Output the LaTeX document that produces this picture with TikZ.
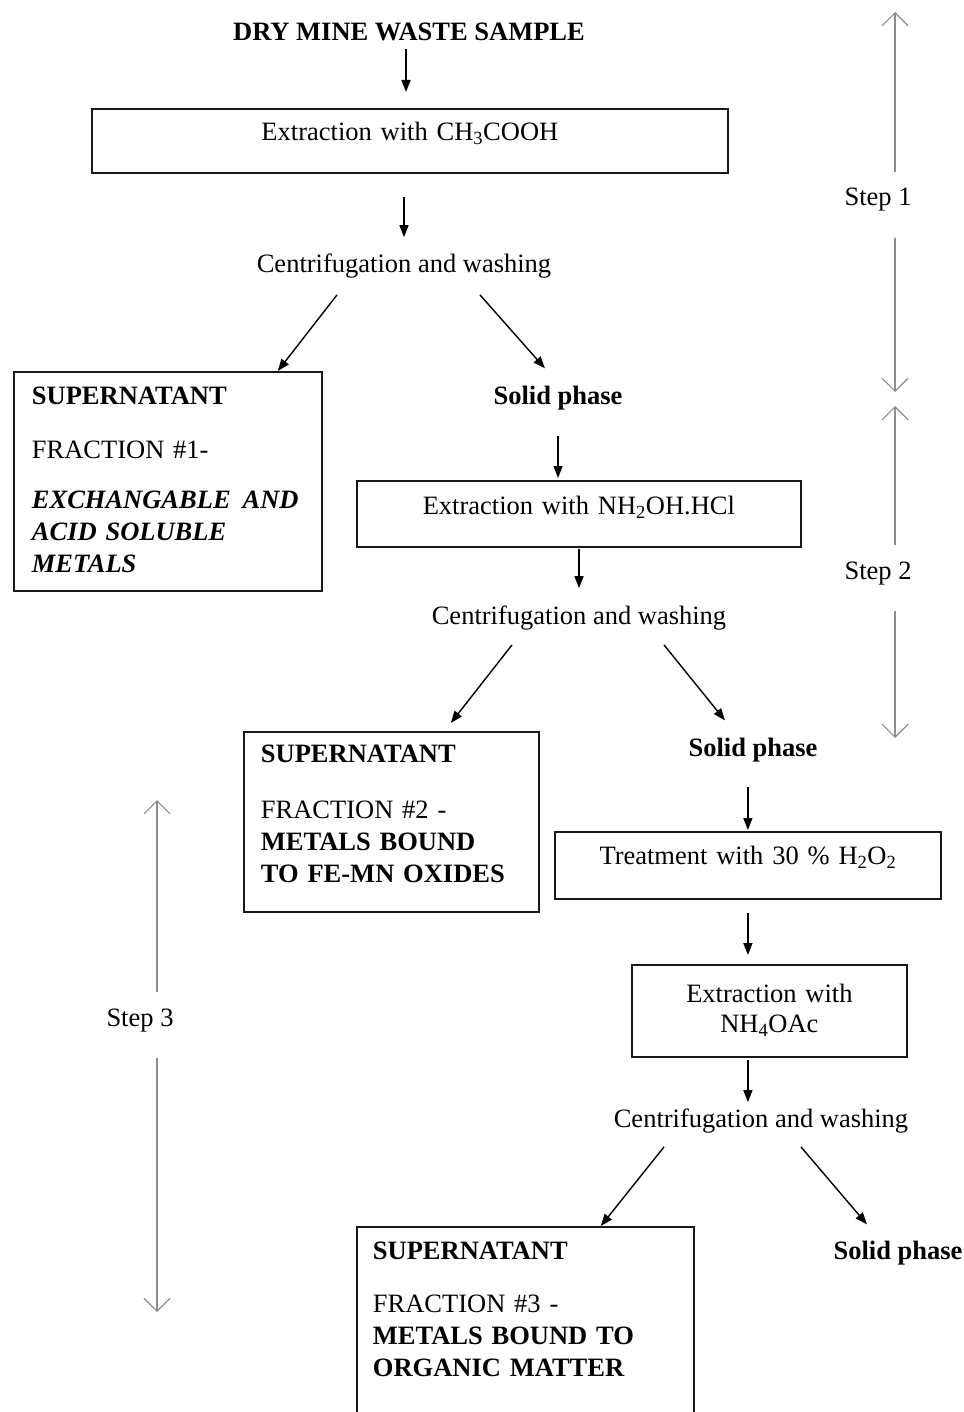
\documentclass[tikz,border=0pt]{standalone}
\usepackage{fontspec}
\setmainfont{Liberation Serif}
\usetikzlibrary{arrows.meta}
\newcommand\diagfont{\fontsize{26.5}{32}\selectfont}
\tikzset{txt/.style={inner sep=0pt, anchor=base, font=\diagfont},
         boldtxt/.style={txt, font=\diagfont\bfseries},
         procbox/.style={draw=black!90, line width=1.8pt, inner sep=0pt, anchor=north west, align=center, font=\diagfont},
         supbox/.style={draw=black!90, line width=1.8pt, inner ysep=0pt, anchor=north west, align=left, font=\diagfont},
         flow/.style={line width=1.4pt, -{Triangle[length=12pt,width=9pt]}},
         steparrow/.style={draw=black!45, line width=1.1pt, -{Straight Barb[length=13pt,width=26pt]}}}

\begin{document}
\begin{tikzpicture}[x=1pt,y=-1pt]
                \useasboundingbox (0,0) rectangle (963,1412);
                \clip (0,0) rectangle (963,1412);

                % step 1
                \node[boldtxt] (title) at (409,41) {DRY MINE WASTE SAMPLE};
                \node[procbox, text width=636pt, text height=32pt, text depth=32pt] (box1) at (91,108) {Extraction with CH\textsubscript{3}COOH};
                \node[txt] (cent1) at (404,273) {Centrifugation and washing};
                \node[supbox, inner xsep=18pt, text width=272pt, text height=33pt, text depth=186pt] (sup1) at (13,371)
                    {\textbf{SUPERNATANT}\\[22pt] FRACTION \#1-\\[18pt] \mbox{\textbf{\textit{EXCHANGABLE\hspace{12pt}AND}}}\\ \textbf{\textit{ACID SOLUBLE}}\\ \textbf{\textit{METALS}}};
                \node[boldtxt] (solid1) at (558,404) {Solid phase};

                % step 2
                \node[procbox, text width=444pt, text height=34pt, text depth=32pt] (box2) at (356,480) {Extraction with NH\textsubscript{2}OH.HCl};
                \node[txt] (cent2) at (579,624) {Centrifugation and washing};
                \node[supbox, inner xsep=17pt, text width=261pt, text height=31pt, text depth=149pt] (sup2) at (243,731)
                    {\textbf{SUPERNATANT}\\[24pt] FRACTION \#2 -\\ \textbf{METALS BOUND}\\ \textbf{TO FE-MN OXIDES}};
                \node[boldtxt] (solid2) at (753,756) {Solid phase};

                % step 3
                \node[procbox, text width=386pt, text height=33pt, text depth=34pt] (box3) at (554,831) {Treatment with 30 \% H\textsubscript{2}O\textsubscript{2}};
                \node[procbox, text width=275pt, text height=38pt, text depth=54pt] (box4) at (631,964) {Extraction with\\[-2pt] NH\textsubscript{4}OAc};
                \node[txt] (cent3) at (761,1127) {Centrifugation and washing};
                \node[supbox, inner xsep=16pt, text width=305pt, text height=33pt, text depth=200pt] (sup3) at (356,1226)
                    {\textbf{SUPERNATANT}\\[21pt] FRACTION \#3 -\\ \textbf{METALS BOUND TO}\\ \textbf{ORGANIC MATTER}};
                \node[boldtxt] (solid3) at (898,1259) {Solid phase};

                \draw[flow, shorten <=7pt, shorten >=16pt] ([xshift=-3pt]title.south) -- ([xshift=-3pt]title.south |- box1.north);
                \draw[flow, shorten <=23pt, shorten >=17pt] (box1.south -| cent1) -- (cent1.north);
                \draw[flow] ([xshift=-67pt,yshift=-16pt]cent1.south) -- ([xshift=-45pt]sup1.north east);
                \draw[flow] ([xshift=76pt,yshift=-16pt]cent1.south) -- ([xshift=-13pt,yshift=17pt]solid1.north);
                \draw[flow, shorten <=26pt, shorten >=2pt] (solid1.south) -- (solid1.south |- box2.north);
                \draw[flow, shorten <=1pt, shorten >=17pt] (box2.south -| cent2) -- (cent2.north);
                \draw[flow] ([xshift=-67pt,yshift=-15pt]cent2.south) -- ([xshift=-89pt,yshift=8pt]sup2.north east);
                \draw[flow] ([xshift=85pt,yshift=-15pt]cent2.south) -- ([xshift=-28pt,yshift=17pt]solid2.north);
                \draw[flow, shorten <=25pt, shorten >=1pt] (box3.north |- solid2.south) -- (box3.north);
                \draw[flow, shorten <=13pt, shorten >=9pt] (box3.south) -- (box3.south |- box4.north);
                \draw[flow, shorten <=2pt, shorten >=6pt] (box3.south |- box4.south) -- (box3.south |- cent3.north);
                \draw[flow] ([xshift=-97pt,yshift=-14pt]cent3.south) -- ([xshift=-94pt]sup3.north east);
                \draw[flow] ([xshift=40pt,yshift=-14pt]cent3.south) -- ([xshift=-31pt,yshift=16pt]solid3.north);

                % step brackets
                \foreach \n/\lx/\ax/\ytop/\ybase/\ybot in {1/878/895/12/206/392, 2/878/895/406/579/738, 3/140/157/800/1026/1312}{
                    \node[txt] (step\n) at (\lx,\ybase) {Step \n};
                    \coordinate (top\n) at (\ax,\ytop);
                    \coordinate (bot\n) at (\ax,\ybot);
                    \draw[steparrow, shorten <=16pt] (step\n.north -| top\n) -- (top\n);
                    \draw[steparrow, shorten <=26pt] (step\n.south -| bot\n) -- (bot\n);
                }
            \end{tikzpicture}
\end{document}
